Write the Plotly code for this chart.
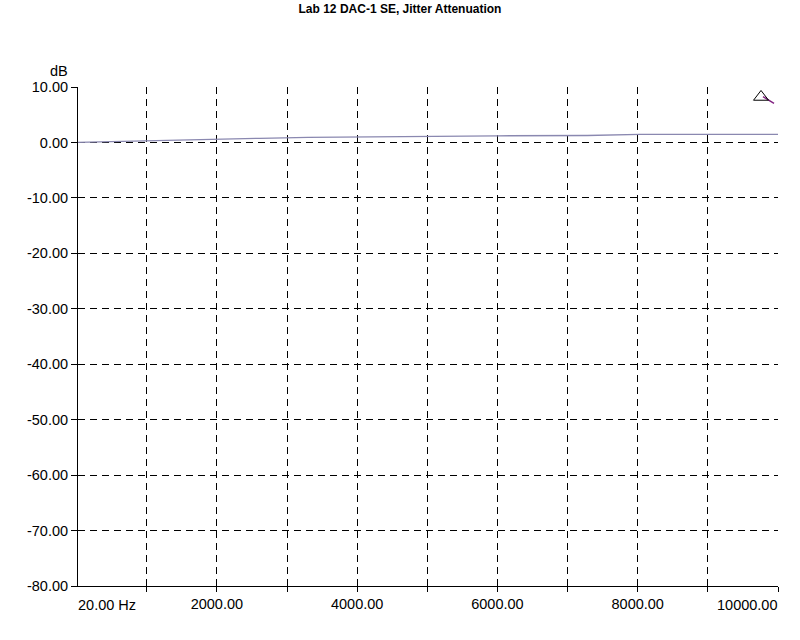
import plotly.graph_objects as go

freq_hz = [20, 690, 1400, 2615, 3300, 4000, 5000, 6000, 7280, 8030, 9000, 10000]
level_db = [0.0, 0.2, 0.5, 0.75, 0.9, 1.0, 1.1, 1.2, 1.25, 1.45, 1.45, 1.45]

marker_hz = [9758]
marker_db = [8.2]
cursor_hz = [9786, 9943]
cursor_db = [8.25, 7.05]

x_grid = [1000, 2000, 3000, 4000, 5000, 6000, 7000, 8000, 9000, 10000]
x_text = ["", "2000.00", "", "4000.00", "", "6000.00", "", "8000.00", "", ""]
y_ticks = [10, 0, -10, -20, -30, -40, -50, -60, -70, -80]
y_text = [f"{v:.2f}" for v in y_ticks]

FONT = "Liberation Sans, Arial, sans-serif"
FS = 14.5

fig = go.Figure()
fig.add_trace(go.Scatter(x=freq_hz, y=level_db, mode="lines",
                         line=dict(color="#8a88b0", width=1.3), showlegend=False))
fig.add_trace(go.Scatter(x=cursor_hz, y=cursor_db, mode="lines",
                         line=dict(color="#802080", width=1.5), showlegend=False))
fig.add_trace(go.Scatter(x=marker_hz, y=marker_db, mode="markers",
                         marker=dict(symbol="triangle-up-open", size=13, color="black",
                                     line=dict(width=1, color="black")), showlegend=False))

fig.update_layout(
    width=800, height=640,
    margin=dict(l=78, r=22, t=87, b=54),
    paper_bgcolor="white", plot_bgcolor="white",
    font=dict(family=FONT, size=FS, color="black"),
    title=dict(text="<b>Lab 12 DAC-1 SE, Jitter Attenuation</b>", x=0.5, xanchor="center",
               y=0.993, yanchor="top", font=dict(size=12, family=FONT)),
    xaxis=dict(range=[20, 10000], tickvals=x_grid, ticktext=x_text,
               showgrid=True, gridcolor="black", griddash="7px,5px", gridwidth=1,
               showline=True, linecolor="black", linewidth=1,
               ticks="outside", ticklen=5, tickcolor="black",
               zeroline=False, fixedrange=True),
    yaxis=dict(range=[-80, 10], tickvals=y_ticks, ticktext=y_text,
               showgrid=True, gridcolor="black", griddash="7px,5px", gridwidth=1,
               showline=True, linecolor="black", linewidth=1,
               ticks="outside", ticklen=6, tickcolor="black",
               zeroline=False, fixedrange=True),
    annotations=[
        dict(text="dB", xref="paper", yref="paper", x=-0.012, y=1.0, xanchor="right",
             yanchor="bottom", yshift=6, showarrow=False, font=dict(size=FS, family=FONT)),
        dict(text="20.00 Hz", xref="x", yref="paper", x=20, y=0, xanchor="left",
             yanchor="top", yshift=-9, xshift=-2, showarrow=False,
             font=dict(size=FS, family=FONT)),
        dict(text="10000.00", xref="x", yref="paper", x=10000, y=0, xanchor="right",
             yanchor="top", yshift=-9, xshift=1, showarrow=False,
             font=dict(size=FS, family=FONT)),
    ],
)

fig.write_html("out.html", config={"displayModeBar": False},
               post_script="document.body.style.margin='0';")
